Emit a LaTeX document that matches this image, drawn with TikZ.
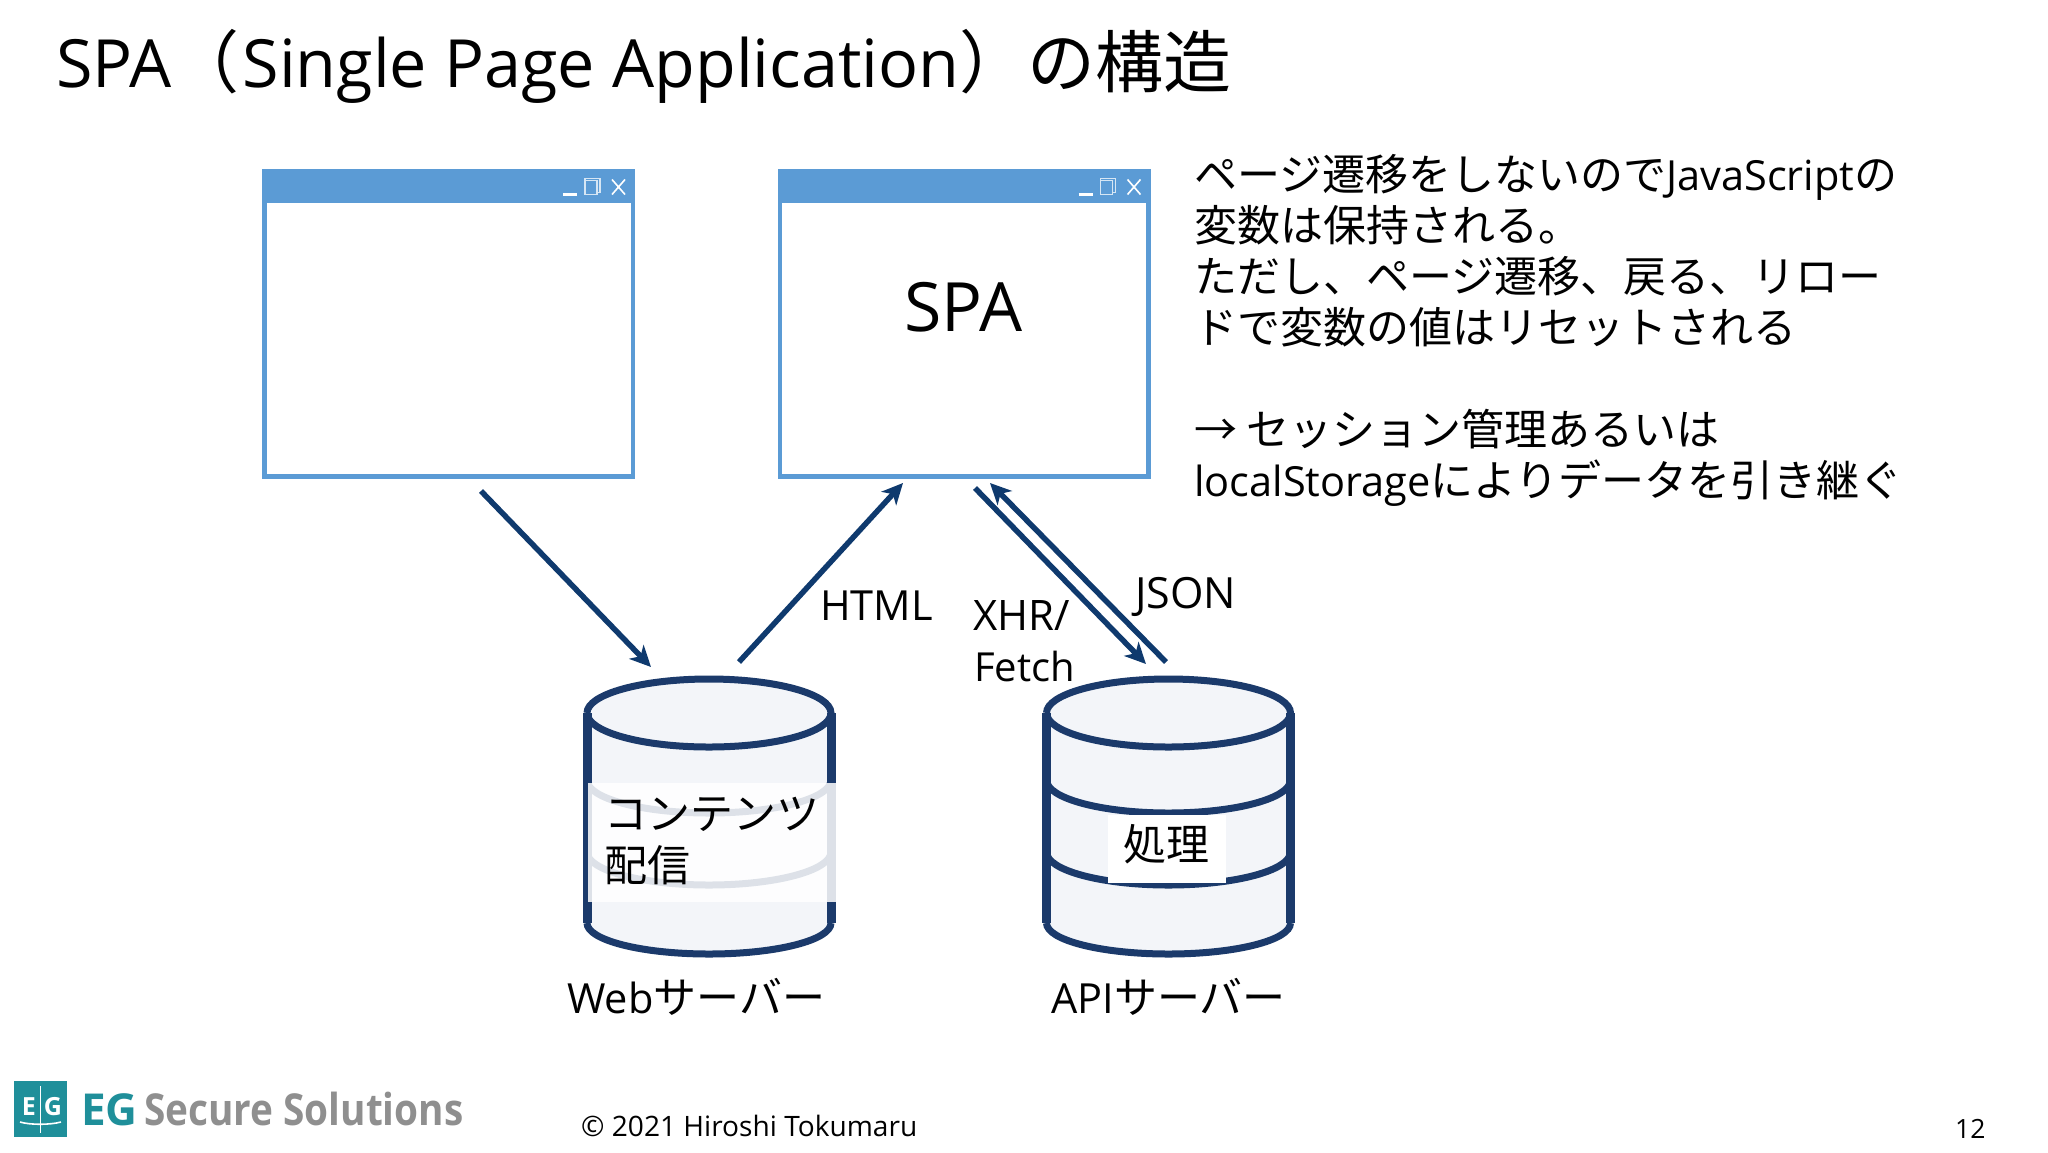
\documentclass[tikz,border=0pt]{standalone}
\usepackage{fontspec}
\setmainfont{Open Sans}
\newfontfamily\jp{Noto Sans CJK JP}
\usetikzlibrary{arrows.meta}
\definecolor{winblue}{HTML}{5B9BD5}
\definecolor{navy}{HTML}{0F3A6E}
\definecolor{cyldark}{HTML}{1B3A6B}
\definecolor{cylfill}{HTML}{F3F5F9}
\definecolor{teal}{HTML}{1F8F9A}
\definecolor{logogrey}{HTML}{8F8F8F}
\newcommand{\J}[1]{{\jp\fontsize{43}{43}\selectfont #1}}
\newcommand{\JT}[1]{{\jp\fontsize{68}{68}\selectfont #1}}
\tikzset{
  txt/.style={anchor=base west,inner sep=0pt,text=black},
  body/.style={txt,font=\fontsize{41.5}{41.5}\selectfont},
  window/.style={draw=winblue,line width=4.5pt,fill=white,minimum width=368.5pt,minimum height=305.5pt,inner sep=0pt},
  flow/.style={draw=navy,line width=5.5pt,-{Stealth[length=21pt,width=20pt,inset=6pt]}},
  cylline/.style={draw=cyldark,line width=7pt},
  anchorbox/.style={minimum width=245pt,minimum height=280pt,inner sep=0pt},
  ctrl/.style={draw=white,line width=1.6pt},
}
\newcommand{\winbar}[1]{%
  \fill[winblue] (#1.north west) rectangle ++(373,34);
  \begin{scope}[shift={(#1.north east)}]
    \draw[ctrl,line width=2.5pt] (-72,26) -- (-58,26);
    \draw[ctrl,draw=white!75!winblue] (-50,12) rectangle (-38,26);
    \draw[ctrl,draw=white!75!winblue] (-50,12) -- (-50,10) -- (-35,10) -- (-35,24) -- (-38,24);
    \draw[ctrl] (-23,11) -- (-10,26) (-23,26) -- (-10,11);
  \end{scope}}
\newcommand{\cyl}[2]{%
  \node[anchorbox] (#1) at (#2,815) {};
  \path[fill=cylfill] (#2-122,713) arc[start angle=180,end angle=360,x radius=122,y radius=34]
    -- (#2+122,923) arc[start angle=0,end angle=180,x radius=122,y radius=31] -- cycle;
  \draw[cylline] (#2-122,713) arc[start angle=180,end angle=540,x radius=122,y radius=34];
  \draw[cylline,line width=9pt] (#2-122,713) -- (#2-122,923) (#2+122,713) -- (#2+122,923);
  \draw[cylline] (#2-122,923) arc[start angle=180,end angle=0,x radius=122,y radius=31];
  \draw[cylline] (#2-122,780) arc[start angle=180,end angle=0,x radius=122,y radius=33];
  \draw[cylline] (#2-122,852) arc[start angle=180,end angle=0,x radius=122,y radius=33];}
\begin{document}
\begin{tikzpicture}[x=1pt,y=-1pt]
\useasboundingbox (0,0) rectangle (2048,1152);
\fill[white] (0,0) rectangle (2048,1152);

\node[txt,font=\fontsize{66.5}{66.5}\selectfont] (title) at (56,87) {SPA\JT{（}\hspace{3pt}Single Page Application\JT{）の構造}};

% windows
\node[window] (win1) at (448.5,323.5) {};
\winbar{win1}
\node[window] (win2) at (964,323.5) {};
\winbar{win2}
\node[font=\fontsize{68}{68}\selectfont,inner sep=0pt,anchor=base] (spa) at (963.5,331) {SPA};

% description
\node[body] (d1) at (1194,190) {\J{ページ遷移をしないので}JavaScript\J{の}};
\node[body] (d2) at (1194,241) {\J{変数は保持される。}};
\node[body] (d3) at (1194,292) {\J{ただし、ページ遷移、戻る、リロー}};
\node[body] (d4) at (1194,343) {\J{ドで変数の値はリセットされる}};
\node[body] (d5) at (1194,445) {\J{→ セッション管理あるいは}};
\node[body] (d6) at (1194,496) {localStorage\J{によりデータを引き継ぐ}};

% cylinders
\cyl{web}{709}
\cyl{api}{1168.5}
\fill[white,fill opacity=.85] (588,783) rectangle (836,902);
\fill[white] (1108,815) rectangle (1226,883);
\node[body] (c1) at (604,829) {\J{コンテンツ}};
\node[body] (c2) at (604,881) {\J{配信}};
\node[body] (c3) at (1123,860) {\J{処理}};
\node[body] (wl) at (567,1013) {Web\J{サーバー}};
\node[body] (al) at (1051,1013) {API\J{サーバー}};

% connectors
\coordinate (w1out) at (481,491);
\coordinate (webin) at (651,667);
\coordinate (webout) at (739,662);
\coordinate (w2in) at (903,483);
\coordinate (w2out) at (975,488);
\coordinate (apiin) at (1146,664);
\coordinate (apiout) at (1166,662);
\coordinate (w2in2) at (990,483);
\draw[flow] (w1out) -- (webin);
\draw[flow] (webout) -- (w2in);
\draw[flow] (w2out) -- (apiin);
\draw[flow] (apiout) -- (w2in2);
\node[body] (html) at (820,620) {HTML};
\node[body,font=\fontsize{43}{43}\selectfont] (json) at (1135,608) {JSON};
\node[body,font=\fontsize{42}{42}\selectfont] (xhr) at (973,630) {XHR/};
\node[body,font=\fontsize{40}{40}\selectfont] (fetch) at (974,681) {Fetch};

% footer
\node[txt,font=\fontsize{28.1}{28.1}\selectfont] (copy) at (581,1136) {© 2021 Hiroshi Tokumaru};
\node[txt,font=\fontsize{26.5}{26.5}\selectfont] (page) at (1955,1138) {12};

% logo
\node[fill=teal,minimum width=53pt,minimum height=56pt,inner sep=0pt] (logo) at (40.5,1109) {};
\node[font=\fontsize{25}{25}\selectfont\bfseries,text=white,inner sep=0pt] (logoE) at (29,1107) {E};
\node[font=\fontsize{25}{25}\selectfont\bfseries,text=white,inner sep=0pt] (logoG) at (53,1107) {G};
\draw[white,line width=1.6pt] (40.5,1086) -- (40.5,1133);
\draw[white,line width=1.6pt] (20,1122) .. controls (30,1125) and (50,1125) .. (61,1122);
\node[txt,font=\fontsize{44}{44}\selectfont\bfseries,text=teal] (eg) at (81,1125) {EG};
\node[txt,xscale=.88,font=\fontsize{44}{44}\selectfont\bfseries,text=logogrey] (ss) at (144,1125) {Secure Solutions};
\end{tikzpicture}
\end{document}
